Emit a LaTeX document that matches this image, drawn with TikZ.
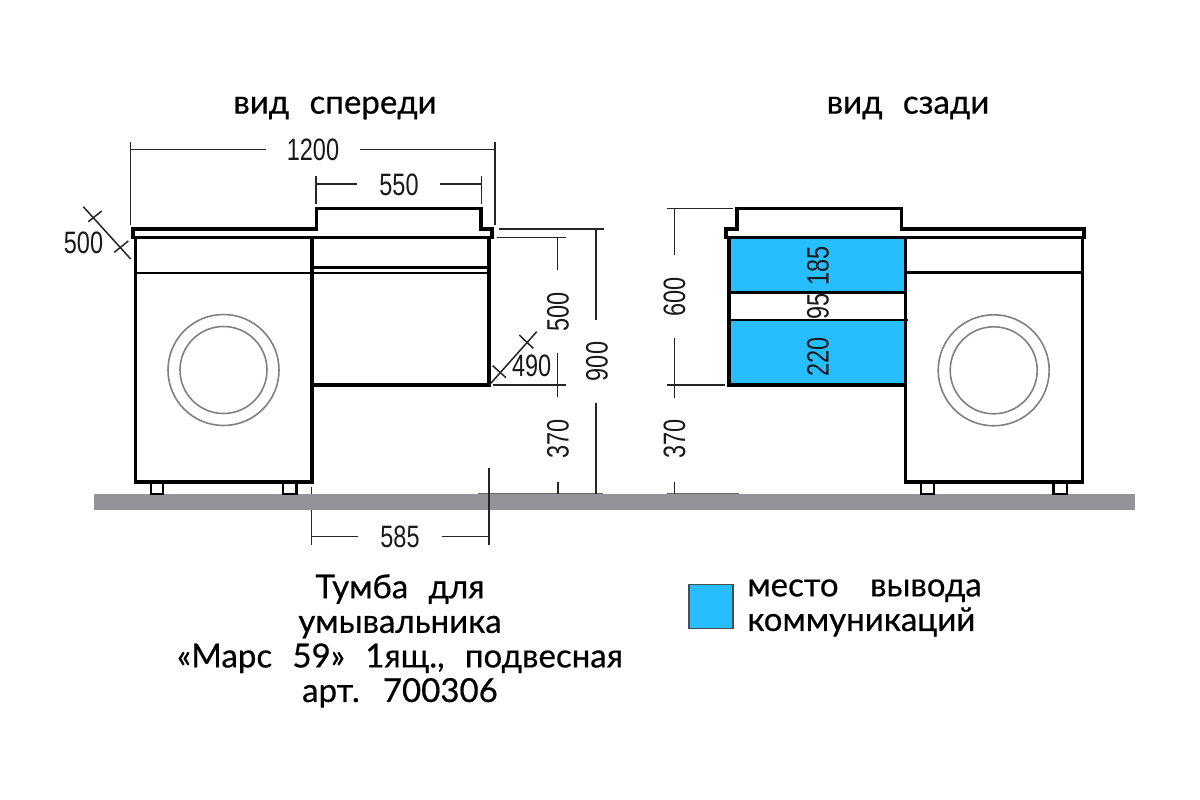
\documentclass[tikz,border=0pt]{standalone}
\usepackage{fontspec}
\setmainfont{Lato}
\newfontfamily\dimfont[FakeStretch=0.76]{Liberation Sans}
\newfontfamily\capfont[WordSpace=2.4, FakeBold=0.5]{Lato}
\definecolor{commblue}{RGB}{39,190,255}
\definecolor{floorgray}{RGB}{146,148,151}
\tikzset{%
	body/.style={draw=black, line width=0.85mm, line join=miter},
	thinbody/.style={draw=black, line width=0.72mm},
	dimline/.style={draw=black!85, line width=0.38mm},
	dimtext/.style={inner sep=0mm, font=\dimfont\fontsize{22}{24}\selectfont, text=black!90},
	captext/.style={inner sep=0mm, align=center, font=\capfont\fontsize{23.5}{24.6}\selectfont},
	hatch/.style={fill=commblue, draw=none},
	drum/.style={draw=black!50, line width=0.4mm},
	foot/.style={draw=black, line width=0.6mm}
}
\begin{document}
\begin{tikzpicture}[x=0.25mm, y=-0.25mm]
	\useasboundingbox (0,0) rectangle (1200,800);

	% floor
	\fill[floorgray] (94,494) rectangle (1135,510);
	\draw[dimline, draw=black!60] (478,493.5) -- (603,493.5);
	\draw[dimline, draw=black!60] (667,493.5) -- (739,493.5);

	% front view
	\draw[body] (133,237.7) |- (316.5,229) |- (481,208.7) |- (492,229) |- cycle;
	\draw[body] (135.3,237.7) |- (312,482) -- (312,237.7);
	\draw[body] (489,237.7) |- (312,385);
	\draw[thinbody] (135.3,273) -- (489,273);
	\draw[thinbody] (312,267.3) -- (489,267.3);
	\draw[foot] (151,482) |- (163,494) -- (163,482);
	\draw[foot] (283,482) |- (296.5,494) -- (296.5,482);
	\draw[drum] (223.5,370) circle (55.5);
	\draw[drum] (223.5,370) circle (43.5);

	% back view
	\fill[hatch] (729,238) rectangle (905,292.3);
	\fill[hatch] (729,320) rectangle (905,384.5);
	\draw[body] (726,237.7) |- (737,229) |- (901.7,208.7) |- (1084,229) |- cycle;
	\draw[body] (729,237.7) |- (905,385);
	\draw[body] (905.3,237.7) |- (1082.3,482) -- (1082.3,237.7);
	\draw[thinbody] (729,292.3) -- (905,292.3);
	\draw[thinbody] (729,320) -- (907.7,320);
	\draw[thinbody] (905.3,272.7) -- (1082.3,272.7);
	\draw[foot] (921,482) |- (934,494) -- (934,482);
	\draw[foot] (1053.3,482) |- (1066.7,494) -- (1066.7,482);
	\draw[drum] (993.7,370.3) circle (55.5);
	\draw[drum] (993.7,370.3) circle (43.5);

	% front view sizes
	\node[dimtext] (w1200) at (313,150) {1200};
	\node[dimtext] (w550) at (399,185) {550};
	\node[dimtext] (w585) at (400,537) {585};
	\node[dimtext] (d500) at (83.5,243) {500};
	\node[dimtext] (d490) at (531.7,366) {490};
	\node[dimtext, rotate=90] (h500) at (558,312) {500};
	\node[dimtext, rotate=90] (h900) at (597,361.5) {900};
	\node[dimtext, rotate=90] (h370) at (558,439) {370};

	\draw[dimline] (130.7,142) -- (130.7,225);
	\draw[dimline] (495,142) -- (495,225);
	\draw[dimline] (130.7,149.5) -- (266,149.5);
	\draw[dimline] (360,149.5) -- (495,149.5);
	\draw[dimline] (316,176) -- (316,204);
	\draw[dimline] (481.6,176) -- (481.6,204);
	\draw[dimline] (316,184) -- (357,184);
	\draw[dimline] (440,184) -- (481.6,184);

	\draw[dimline] (83.3,206.7) -- (130.7,259);
	\draw[dimline] (88.3,221.7) -- (101.7,211);
	\draw[dimline] (114.3,252.3) -- (128.3,241);
	\draw[dimline] (489.3,385) -- (536.7,331.7);
	\draw[dimline] (492.7,365.7) -- (506,377.7);
	\draw[dimline] (519.3,335) -- (533.3,348.3);

	\draw[dimline] (499,229) -- (604,229);
	\draw[dimline] (497,237.7) -- (566,237.7);
	\draw[dimline] (493,385) -- (566,385);
	\draw[dimline] (557.7,237.7) -- (557.7,270);
	\draw[dimline] (557.7,353) -- (557.7,397);
	\draw[dimline] (558,482) -- (558,494);
	\draw[dimline] (596,229) -- (596,320);
	\draw[dimline] (596,403) -- (596,494);
	\draw[dimline] (488.8,468) -- (488.8,545);
	\draw[dimline] (311.7,487) -- (311.7,494);
	\draw[dimline] (311.7,510) -- (311.7,545);
	\draw[dimline] (311.7,536.7) -- (358,536.7);
	\draw[dimline] (442,536.7) -- (488.8,536.7);

	% back view sizes
	\node[dimtext, rotate=90] (h600) at (674.5,297) {600};
	\node[dimtext, rotate=90] (b370) at (674.5,439) {370};
	\node[dimtext, rotate=90] (b185) at (818,266) {185};
	\node[dimtext, rotate=90] (b95) at (818,306.7) {95};
	\node[dimtext, rotate=90] (b220) at (818,356.7) {220};

	\draw[dimline] (666.7,208.5) -- (732.7,208.5);
	\draw[dimline] (666.7,385) -- (725,385);
	\draw[dimline] (674.3,208.5) -- (674.3,255);
	\draw[dimline] (674.3,337.7) -- (674.3,398);
	\draw[dimline] (674.3,482) -- (674.3,494);

	% captions
	\node[captext] (front) at (335,108) {вид спереди};
	\node[captext] (back) at (908,108) {вид сзади};
	\node[captext] (name) at (400,641) {Тумба для\\умывальника\\«Марс 59» 1ящ., подвесная\\арт. 700306};
	\node[draw=black!70, line width=0.35mm, fill=commblue, minimum width=11mm, minimum height=11mm, inner sep=0mm] (legend) at (711,606.7) {};
	\node[captext, align=left, anchor=west] (legendtext) at (747,608) {место\hspace{8pt} вывода\\коммуникаций};
\end{tikzpicture}
\end{document}
